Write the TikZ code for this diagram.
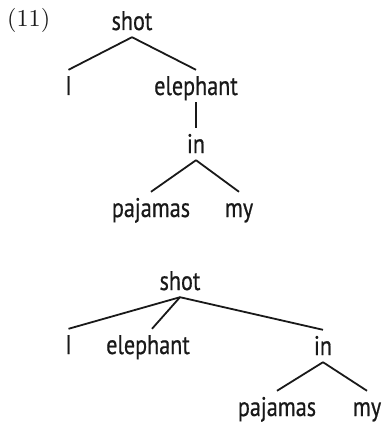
\documentclass[tikz,border=0pt]{standalone}
\usepackage{fontspec}
\newfontfamily\treefont[FakeStretch=0.82,FakeBold=0.6]{PT Sans}
\begin{document}
\begin{tikzpicture}[x=1pt,y=-1pt,
  word/.style={font=\treefont\fontsize{27}{27}\selectfont, anchor=base, inner sep=7pt,
               text height=18pt, text depth=0pt, text=black!90},
  edge/.style={line width=1.8pt, draw=black!90}]
\useasboundingbox (0,0) rectangle (381,425);
\node[anchor=base west, inner sep=0pt, text=black!90] (ex) at (7,27) {\resizebox{43pt}{!}{(11)}};
% top tree
\node[word] (s1) at (132,30) {shot};
\node[word] (i1) at (68.5,95) {I};
\node[word] (e1) at (196,95) {elephant};
\node[word] (in1) at (196,153) {in};
\node[word] (p1) at (151,217) {pajamas};
\node[word] (m1) at (239,217) {my};
\draw[edge] (s1.south) -- (i1.north);
\draw[edge] (s1.south) -- (e1.north);
\draw[edge] (e1.south) -- (in1.north);
\draw[edge] (in1.south) -- (p1.north);
\draw[edge] (in1.south) -- (m1.north);
% bottom tree
\node[word] (s2) at (180,290) {shot};
\node[word] (i2) at (68.5,354) {I};
\node[word] (e2) at (148,354) {elephant};
\node[word] (in2) at (323,355) {in};
\node[word] (p2) at (277,416) {pajamas};
\node[word] (m2) at (367,416) {my};
\draw[edge] (s2.south) -- (i2.north);
\draw[edge] (s2.south) -- ([xshift=4pt]e2.north);
\draw[edge] (s2.south) -- (in2.north);
\draw[edge] (in2.south) -- (p2.north);
\draw[edge] (in2.south) -- (m2.north);
\end{tikzpicture}
\end{document}
